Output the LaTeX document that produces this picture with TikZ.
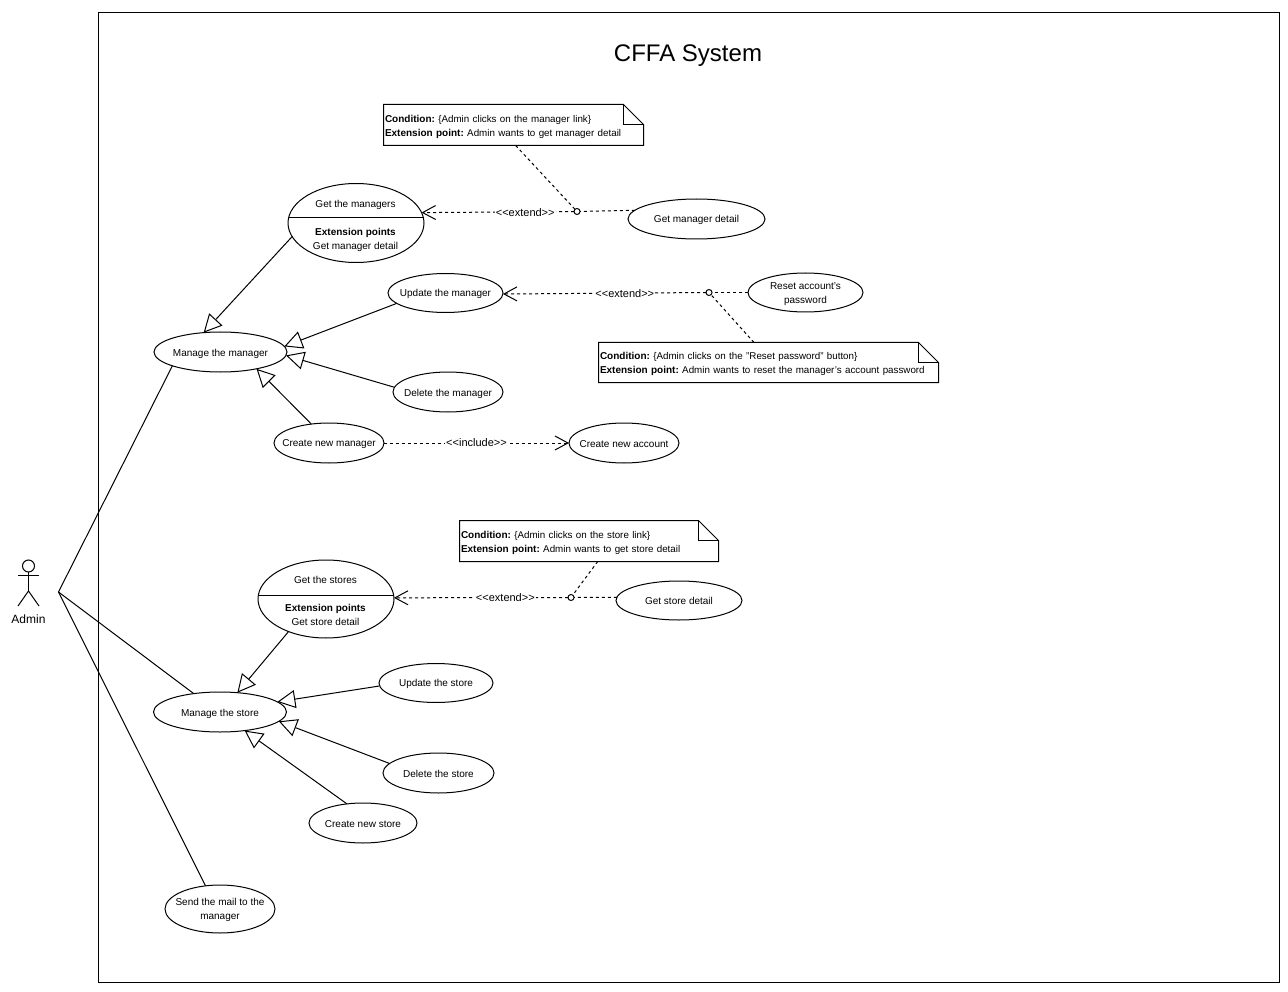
\documentclass[tikz,border=0pt]{standalone}
\usepackage{fontspec}
\setmainfont{Liberation Sans}
\usetikzlibrary{shapes.geometric,arrows.meta,calc}
\tikzset{
  x=1pt,y=-1pt,
  every node/.style={outer sep=0pt},
  usecase/.style={draw,ellipse,inner sep=0pt,fill=white},
  plain/.style={inner sep=0pt,align=center,font=\fontsize{10}{14}\selectfont\frenchspacing},
  notebox/.style={rectangle,inner sep=2pt,align=left,font=\fontsize{10}{14}\selectfont\frenchspacing},
  joint/.style={draw,circle,fill=white,minimum size=6pt,inner sep=0pt},
  gen/.style={-{Triangle[open,length=18pt,width=18pt,fill=white]}},
  dep/.style={dash pattern=on 3pt off 3pt},
  deparrow/.style={dep,-{Straight Barb[length=13pt,width=14pt,line width=1pt]}},
  deplabel/.style={fill=white,inner sep=1pt,font=\fontsize{11}{13}\selectfont},
}
\newcommand{\nr}{\fontsize{9.8}{14}\selectfont}
\newcommand{\notefold}[1]{%
  \draw[fill=white] (#1.north west) -- ($(#1.north east)+(-20,0)$) -- ($(#1.north east)+(0,20)$) -- (#1.south east) -- (#1.south west) -- cycle;
  \draw ($(#1.north east)+(-20,0)$) -- ($(#1.north east)+(-20,20)$) -- ($(#1.north east)+(0,20)$);}
\newcommand{\usecasenode}[7][1.2]{%
  \node[usecase,minimum width=#3pt,minimum height=#4pt] (#2) at (#5,#6) {};
  \node[plain] (#2t) at ($(#2.center)+(0,#1)$) {#7};}
\begin{document}
\begin{tikzpicture}[line width=1pt]
\useasboundingbox[fill=white] (0,0) rectangle (1288,992);
\node[draw,rectangle,minimum width=1181pt,minimum height=969pt,inner sep=0pt] (frame) at (688.5,497.5) {};
\node[font=\fontsize{24}{28}\selectfont] (title) at (688,56) {CFFA System};

% actor
\node[draw,circle,minimum size=12pt,inner sep=0pt] (head) at (28.5,566) {};
\coordinate (hip) at (28.5,591);
\coordinate (armL) at (18,575.5);
\coordinate (armR) at (39,575.5);
\coordinate (legL) at (18,606);
\coordinate (legR) at (39,606);
\draw (head.south) -- (hip);
\draw (armL) -- (armR);
\draw (legL) -- (hip) -- (legR);
\node[font=\fontsize{12}{14}\selectfont] (admin) at (28.5,619) {Admin};
\coordinate (actorend) at (58.5,592);

% use cases
\node[usecase,minimum width=136pt,minimum height=79pt] (gm) at (356,223) {};
\usecasenode{gmd}{137}{40}{696.5}{219}{Get manager detail}
\usecasenode{um}{115}{39}{445.5}{293}{Update the manager}
\usecasenode{reset}{115}{39}{805.5}{292.5}{Reset account's\\password}
\usecasenode[2.4]{mm}{133}{40}{220.5}{352}{Manage the manager}
\usecasenode[2.4]{dm}{110}{40}{448}{392}{Delete the manager}
\usecasenode{cm}{110}{40}{329}{443}{Create new manager}
\usecasenode{ca}{110}{40}{624}{443}{Create new account}
\node[usecase,minimum width=136pt,minimum height=78pt] (gs) at (326,599) {};
\usecasenode[0.8]{gsd}{126}{39}{679}{600.5}{Get store detail}
\usecasenode{us}{114}{39}{436}{683}{Update the store}
\usecasenode[2.4]{ms}{133}{40}{220}{712}{Manage the store}
\usecasenode{ds}{111}{40}{438.5}{773}{Delete the store}
\usecasenode{cs}{108}{40}{363}{823}{Create new store}
\usecasenode{mail}{110}{48}{220}{909}{Send the mail to the\\manager}

% compartments
\draw ($(gm.center)+(-67.5,-5)$) -- ($(gm.center)+(67.5,-5)$);
\node[plain] (gm1) at (355.5,204.5) {Get the managers};
\node[plain] (gm2) at (355.5,232.5) {\textbf{Extension points}};
\node[plain] (gm3) at (355.5,246.5) {Get manager detail};
\draw ($(gs.center)+(-67.7,-4)$) -- ($(gs.center)+(67.7,-4)$);
\node[plain] (gs1) at (325.5,580) {Get the stores};
\node[plain] (gs2) at (325.5,608.5) {\textbf{Extension points}};
\node[plain] (gs3) at (325.5,622) {Get store detail};

% notes
\node[notebox,text width=256pt,minimum height=41pt] (n1) at (513.5,125) {};
\notefold{n1}
\node[notebox,text width=256pt,minimum height=41pt] (n1t) at (513,126.5) {\textbf{Condition:} \nr\{Admin clicks on the manager link\}\\\fontsize{10}{14}\selectfont\textbf{Extension point:} \nr Admin wants to get manager detail};
\node[notebox,text width=336pt,minimum height=40pt] (n2) at (768.5,362.5) {};
\notefold{n2}
\node[notebox,text width=336pt,minimum height=40pt] (n2t) at (768,364) {\textbf{Condition:} \nr\{Admin clicks on the "Reset password" button\}\\\fontsize{10}{14}\selectfont\textbf{Extension point:} \nr Admin wants to reset the manager's account password};
\node[notebox,text width=255pt,minimum height=41pt] (n3) at (589,541) {};
\notefold{n3}
\node[notebox,text width=255pt,minimum height=41pt] (n3t) at (588.5,542.5) {\textbf{Condition:} \nr\{Admin clicks on the store link\}\\\fontsize{10}{14}\selectfont\textbf{Extension point:} \nr Admin wants to get store detail};

% actor associations
\draw (actorend) -- (mm.196.8);
\draw (actorend) -- (ms.145);
\draw (actorend) -- (mail.122);

% generalisations
\draw[gen] (gm.192.3) -- (mm.131);
\draw[gen] (um.192) -- (mm.5.5);
\draw[gen] (dm.175) -- (mm.-3.5);
\draw[gen] (cm.133.5) -- (mm.-25);
\draw[gen] (gs.221) -- (ms.48);
\draw[gen] (us.183) -- (ms.10);
\draw[gen] (ds.169) -- (ms.-9.5);
\draw[gen] (cs.130) -- (ms.-37.5);

% include
\draw[deparrow] (cm.east) -- node[deplabel] (inc) {<{}<include>{}>} (ca.west);

% extends
\node[joint] (j1) at (577,211.5) {};
\draw[dep] (gmd.172.7) -- (j1);
\draw[deparrow] (j1) -- node[deplabel,pos=0.32,yshift=-0.5pt] (e1) {<{}<extend>{}>} (gm.9.6);
\draw[dep] (n1.-84.4) -- (j1);

\node[joint] (j2) at (709,292.5) {};
\draw[dep] (reset.west) -- (j2);
\draw[deparrow] (j2) -- node[deplabel,pos=0.40] (e2) {<{}<extend>{}>} (um.-1);
\draw[dep] (n2.126.9) -- (j2);

\node[joint] (j3) at (571,597.5) {};
\draw[dep] (gsd.177.7) -- (j3);
\draw[deparrow] (j3) -- node[deplabel,pos=0.36] (e3) {<{}<extend>{}>} (gs.1.7);
\draw[dep] (n3.-67.5) -- (j3);
\end{tikzpicture}
\end{document}
